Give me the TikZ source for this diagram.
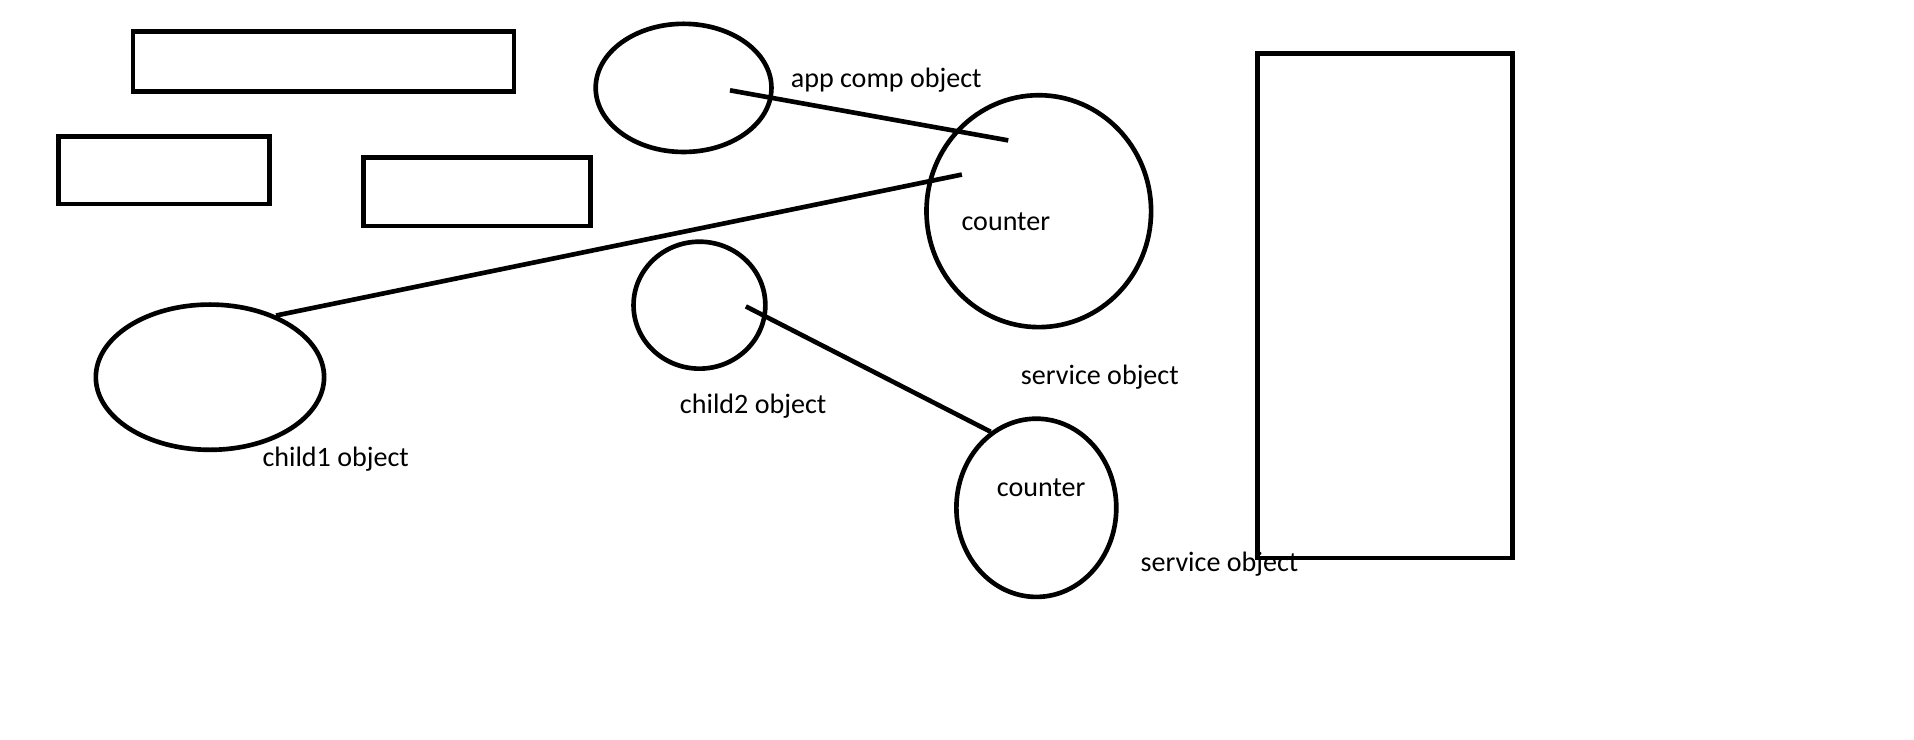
\documentclass[tikz,border=0pt]{standalone}
\usepackage{fontspec}
\setmainfont{Carlito}
\usetikzlibrary{shapes.geometric}

\begin{document}
\begin{tikzpicture} [x=0.5pt, y=-0.5pt,
            line width=1.9pt,
            font=\fontsize{11.5}{14}\selectfont]
            \tikzstyle{box}=[draw, rectangle, inner sep=0pt]
            \tikzstyle{obj}=[draw, ellipse, inner sep=0pt]
            \tikzstyle{lbl}=[inner sep=0pt, anchor=mid]

            \useasboundingbox (0,0) rectangle (1568,606);

            % Boxes top left
            \node (boxa) [box,
                minimum width=156pt,
                minimum height=24.5pt] at (265,50.5) {};
            \node (boxb) [box,
                minimum width=86.5pt,
                minimum height=27.5pt] at (134.5,139.5) {};
            \node (boxc) [box,
                minimum width=93pt,
                minimum height=28pt] at (391,157) {};

            % Box on the right
            \node (side) [box,
                minimum width=104.5pt,
                minimum height=206.5pt] at (1134.5,250.5) {};

            % Objects
            \node (app) [obj,
                minimum width=72pt,
                minimum height=52.5pt] at (560,72) {};
            \node (cnta) [obj,
                minimum width=92pt,
                minimum height=95pt] at (851,173) {};
            \node (childa) [obj,
                minimum width=93.5pt,
                minimum height=59.5pt] at (172,309) {};
            \node (childb) [obj,
                minimum width=54pt,
                minimum height=52pt] at (573,250) {};
            \node (cntb) [obj,
                minimum width=65.5pt,
                minimum height=73pt] at (849,416) {};

            % Labels
            \node (applbl) [lbl] at (726,67) {app comp object};
            \node (cntalbl) [lbl] at (824,184) {counter};
            \node (childalbl) [lbl] at (275,377) {child1 object};
            \node (childblbl) [lbl] at (617,334) {child2 object};
            \node (srvalbl) [lbl] at (901,310) {service object};
            \node (cntblbl) [lbl] at (853,402) {counter};
            \node (srvblbl) [lbl] at (999,463) {service object};

            % Line ends inside the objects
            \coordinate (appin) at (598,74);
            \coordinate (cntain) at (826,115);
            \coordinate (cntaleft) at (788,143);
            \coordinate (childbin) at (611,251);

            % Lines
            \draw (appin) -- (cntain);
            \draw (cntaleft) -- (childa.43);
            \draw (childbin) -- (cntb.121);
        \end{tikzpicture}
\end{document}
